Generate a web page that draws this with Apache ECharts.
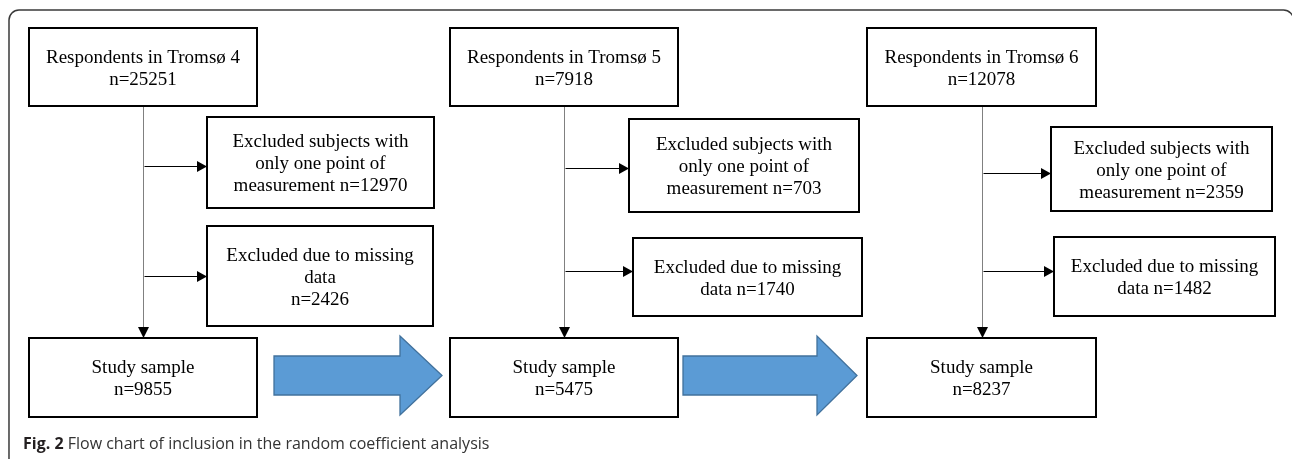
<!DOCTYPE html>
<html><head><meta charset="utf-8">
<script src="https://cdn.jsdelivr.net/npm/echarts@6/dist/echarts.min.js"></script>
<style>html,body{margin:0;padding:0;background:#fff}#c{width:1292px;height:459px}</style>
</head><body><div id="c"></div>
<script>
// ---- data ----
const waves = ['Tromsø 4', 'Tromsø 5', 'Tromsø 6'];
const respondents = [25251, 7918, 12078];
const excludedSingle = [12970, 703, 2359];
const excludedMissing = [2426, 1740, 1482];
const studySample = [9855, 5475, 8237];
const captionBold = 'Fig. 2';
const captionText = 'Flow chart of inclusion in the random coefficient analysis';

// ---- layout (pixel space of the canvas) ----
const layout = [
  { resp: [29, 28, 257, 106], single: [207, 117, 434, 208], missing: [207, 226, 433, 326], sample: [29, 338, 257, 417], stem: 143.5, ySingle: 166.5, yMissing: 276.5, wrapMissing: true },
  { resp: [450, 28, 678, 106], single: [629, 119, 859, 212], missing: [633, 238, 862, 316], sample: [450, 338, 678, 417], stem: 564.5, ySingle: 168.5, yMissing: 271.5, wrapMissing: false },
  { resp: [867, 28, 1096, 106], single: [1051, 127, 1272, 211], missing: [1054, 237, 1275, 316], sample: [867, 338, 1096, 417], stem: 982.5, ySingle: 173.5, yMissing: 271.5, wrapMissing: false }
];
const bigArrows = [[274, 400, 442], [683, 817, 857]];
const bigArrowY = { body: [356, 395], head: [336, 415] };

// ---- build marks ----
const boxes = [], boxTexts = [];
layout.forEach((c, i) => {
  boxes.push(c.resp); boxTexts.push('Respondents in ' + waves[i] + '\nn=' + respondents[i]);
  boxes.push(c.single); boxTexts.push('Excluded subjects with\nonly one point of\nmeasurement n=' + excludedSingle[i]);
  boxes.push(c.missing); boxTexts.push(c.wrapMissing ? 'Excluded due to missing\ndata\nn=' + excludedMissing[i] : 'Excluded due to missing\ndata n=' + excludedMissing[i]);
  boxes.push(c.sample); boxTexts.push('Study sample\nn=' + studySample[i]);
});
const stems = layout.map(c => [c.stem, c.resp[3], c.sample[1]]);
const sideArrows = [];
layout.forEach(c => {
  sideArrows.push([c.stem + 1, c.ySingle, c.single[0]]);
  sideArrows.push([c.stem + 1, c.yMissing, c.missing[0]]);
});

const chart = echarts.init(document.getElementById('c'), null, { renderer: 'canvas' });
const serif = '"Liberation Serif", "Times New Roman", serif';
const sans = '"Open Sans", "Noto Sans", sans-serif';

chart.setOption({
  animation: false,
  backgroundColor: '#fff',
  grid: { left: 0, right: 0, top: 0, bottom: 0 },
  xAxis: { type: 'value', min: 0, max: 1292, show: false },
  yAxis: { type: 'value', min: 0, max: 459, inverse: true, show: false },
  title: {
    text: '{b|' + captionBold + '} {r|' + captionText + '}',
    left: 23, top: 436, padding: 0,
    textStyle: {
      fontWeight: 'normal', fontFamily: sans, fontSize: 16, color: '#333',
      rich: {
        b: { fontFamily: sans, fontSize: 16, fontWeight: 'bold', color: '#231f20' },
        r: { fontFamily: sans, fontSize: 16, fontWeight: 'normal', color: '#333' }
      }
    }
  },
  graphic: [{
    type: 'rect', z: 0, silent: true,
    shape: { x: 9, y: 10, width: 1284.5, height: 470, r: 10 },
    style: { fill: 'none', stroke: '#3a3a3a', lineWidth: 1.5 }
  }],
  series: [
    {
      type: 'custom', clip: false, z: 2,
      data: stems,
      renderItem: (p, api) => {
        const top = api.coord([api.value(0), api.value(1)]);
        const bot = api.coord([api.value(0), api.value(2)]);
        return { type: 'group', children: [
          { type: 'line', shape: { x1: top[0], y1: top[1], x2: bot[0], y2: bot[1] - 9 }, style: { stroke: '#808080', lineWidth: 1 } },
          { type: 'polygon', shape: { points: [[bot[0] - 5.5, bot[1] - 11], [bot[0] + 5.5, bot[1] - 11], [bot[0], bot[1]]] }, style: { fill: '#000' } }
        ] };
      }
    },
    {
      type: 'custom', clip: false, z: 2,
      data: sideArrows,
      renderItem: (p, api) => {
        const a = api.coord([api.value(0), api.value(1)]);
        const b = api.coord([api.value(2), api.value(1)]);
        return { type: 'group', children: [
          { type: 'line', shape: { x1: a[0], y1: a[1], x2: b[0] - 9, y2: b[1] }, style: { stroke: '#000', lineWidth: 1 } },
          { type: 'polygon', shape: { points: [[b[0] - 10, b[1] - 5.5], [b[0] - 10, b[1] + 5.5], [b[0], b[1]]] }, style: { fill: '#000' } }
        ] };
      }
    },
    {
      type: 'custom', clip: false, z: 3,
      data: boxes,
      renderItem: (p, api) => {
        const p0 = api.coord([api.value(0), api.value(1)]);
        const p1 = api.coord([api.value(2), api.value(3)]);
        return { type: 'group', children: [
          { type: 'rect', shape: { x: p0[0], y: p0[1], width: p1[0] - p0[0], height: p1[1] - p0[1] }, style: { fill: '#fff', stroke: '#000', lineWidth: 2 } },
          { type: 'text', style: { text: boxTexts[p.dataIndex], x: (p0[0] + p1[0]) / 2, y: (p0[1] + p1[1]) / 2 + 2, align: 'center', verticalAlign: 'middle', fontFamily: serif, fontSize: 19, lineHeight: 22, fill: '#000' } }
        ] };
      }
    },
    {
      type: 'custom', clip: false, z: 3,
      data: bigArrows,
      renderItem: (p, api) => {
        const x0 = api.value(0), xh = api.value(1), xt = api.value(2);
        const [b0, b1] = bigArrowY.body, [h0, h1] = bigArrowY.head;
        const pts = [[x0, b0], [xh, b0], [xh, h0], [xt, (h0 + h1) / 2], [xh, h1], [xh, b1], [x0, b1]].map(q => api.coord(q));
        return { type: 'polygon', shape: { points: pts }, style: { fill: '#5B9BD5', stroke: '#41719C', lineWidth: 1.3 } };
      }
    }
  ]
});
</script>
</body></html>
